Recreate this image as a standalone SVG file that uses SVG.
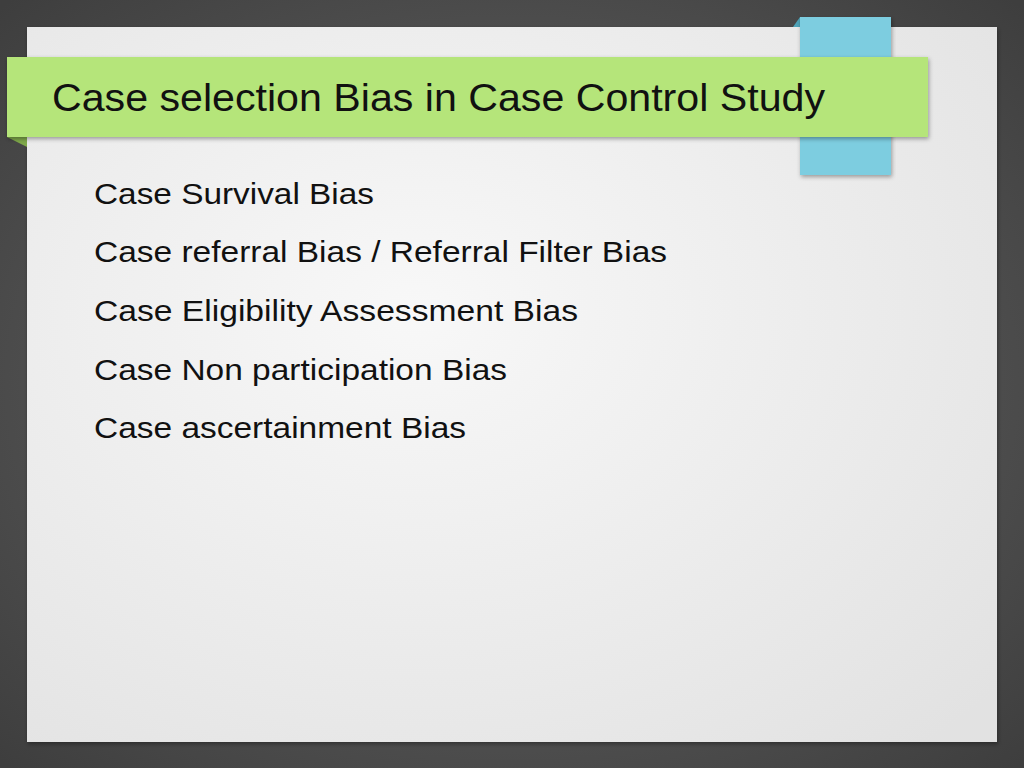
<svg xmlns="http://www.w3.org/2000/svg" width="1024" height="768" viewBox="0 0 1024 768">
<defs>
<radialGradient id="bg" cx="0.5" cy="0.5" r="0.7"><stop offset="0" stop-color="#6a6a6a"/><stop offset="1" stop-color="#3e3e3e"/></radialGradient>
<radialGradient id="pg" cx="0.4" cy="0.4" r="0.8"><stop offset="0" stop-color="#f8f8f8"/><stop offset="1" stop-color="#e2e2e2"/></radialGradient>
<filter id="sh" x="-5%" y="-5%" width="110%" height="115%"><feDropShadow dx="1" dy="2" stdDeviation="2" flood-opacity="0.35"/></filter>
<style>
.b{font-family:"Liberation Sans",Arial,sans-serif;font-size:30px;fill:#111}
.t{font-family:"Liberation Sans",Arial,sans-serif;font-size:38px;fill:#111}
</style>
</defs>
<rect width="1024" height="768" fill="url(#bg)"/>
<rect x="27" y="27" width="970" height="715" fill="url(#pg)" filter="url(#sh)"/>
<polygon points="793,27 800,17 800,27" fill="#4fa3b8"/>
<rect x="800" y="17" width="91" height="158" fill="#7dcde0" filter="url(#sh)"/>
<polygon points="7,137 27,137 27,147" fill="#7fa84a"/>
<rect x="7" y="57" width="921" height="80" fill="#b5e57a" filter="url(#sh)"/>
<text class="t" x="52" y="111" textLength="773" lengthAdjust="spacingAndGlyphs">Case selection Bias in Case Control Study</text>
<text class="b" x="94" y="204" textLength="280" lengthAdjust="spacingAndGlyphs">Case Survival Bias</text>
<text class="b" x="94" y="262" textLength="573" lengthAdjust="spacingAndGlyphs">Case referral Bias / Referral Filter Bias</text>
<text class="b" x="94" y="321" textLength="484" lengthAdjust="spacingAndGlyphs">Case Eligibility Assessment Bias</text>
<text class="b" x="94" y="380" textLength="413" lengthAdjust="spacingAndGlyphs">Case Non participation Bias</text>
<text class="b" x="94" y="438" textLength="372" lengthAdjust="spacingAndGlyphs">Case ascertainment Bias</text>
</svg>
